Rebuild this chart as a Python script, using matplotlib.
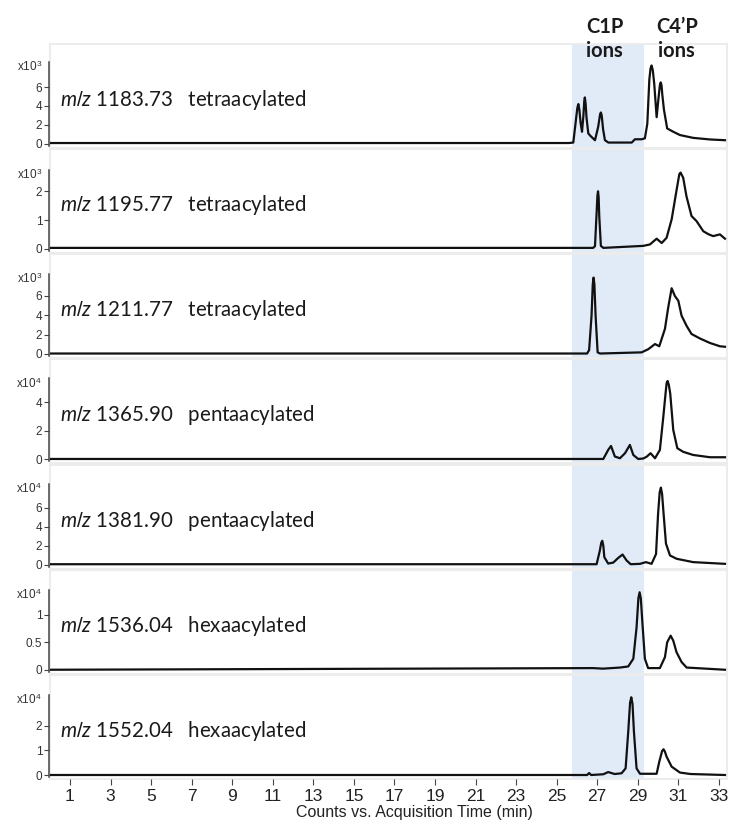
import matplotlib
matplotlib.use('Agg')
import matplotlib.pyplot as plt
from matplotlib.patches import Rectangle

plt.rcParams['mathtext.fontset'] = 'custom'
plt.rcParams['mathtext.it'] = 'Lato:italic'
plt.rcParams['mathtext.rm'] = 'Liberation Sans'

# --- data (time in min, counts in display units) ---
labels = [r'$\mathit{m/z}$ 1183.73   tetraacylated',
          r'$\mathit{m/z}$ 1195.77   tetraacylated',
          r'$\mathit{m/z}$ 1211.77   tetraacylated',
          r'$\mathit{m/z}$ 1365.90   pentaacylated',
          r'$\mathit{m/z}$ 1381.90   pentaacylated',
          r'$\mathit{m/z}$ 1536.04   hexaacylated',
          r'$\mathit{m/z}$ 1552.04   hexaacylated']
exponents = ['x10$^{3}$', 'x10$^{3}$', 'x10$^{3}$', 'x10$^{4}$', 'x10$^{4}$', 'x10$^{4}$', 'x10$^{4}$']

t1 = [0.05, 25.6, 25.82, 25.95, 26.02, 26.07, 26.12, 26.18, 26.25, 26.32, 26.36, 26.39, 26.43,
      26.47, 26.56, 26.67, 26.89, 27.05, 27.14, 27.18, 27.22, 27.29, 27.38, 27.55, 28.7, 28.86,
      29.19, 29.35, 29.47, 29.57, 29.63, 29.68, 29.74, 29.81, 29.93, 30.03, 30.09, 30.13, 30.17,
      30.21, 30.29, 30.45, 30.75, 31.08, 31.73, 32.56, 33.3]
v1 = [0.05, 0.05, 0.1, 2.5, 3.8, 4.2, 3.6, 2.2, 1.25, 3.0, 4.5, 4.9, 4.2,
      2.8, 1.07, 0.8, 0.35, 1.8, 3.1, 3.3, 3.0, 1.5, 0.35, 0.1, 0.1, 0.45,
      0.45, 0.55, 2.1, 6.8, 8.0, 8.3, 7.8, 6.4, 2.8, 5.0, 6.2, 6.5, 6.2,
      5.2, 3.6, 1.6, 1.25, 0.9, 0.6, 0.43, 0.35]

t2 = [0.05, 26.8, 26.89, 26.97, 27.01, 27.04, 27.07, 27.1, 27.18, 27.3, 29.27, 29.6, 29.93,
      30.18, 30.42, 30.67, 30.92, 31.05, 31.11, 31.24, 31.4, 31.65, 31.9, 32.23, 32.5, 32.72,
      33.05, 33.3]
v2 = [0.03, 0.03, 0.09, 1.25, 1.85, 2.0, 1.8, 1.14, 0.1, 0.03, 0.1, 0.15, 0.35,
      0.2, 0.38, 1.02, 2.07, 2.6, 2.65, 2.47, 1.83, 1.14, 0.96, 0.61, 0.5, 0.44,
      0.5, 0.35]

t3 = [0.05, 26.5, 26.6, 26.72, 26.78, 26.82, 26.86, 26.92, 27.02, 27.14, 29.19, 29.52, 29.85,
      30.06, 30.34, 30.5, 30.67, 30.83, 31.0, 31.16, 31.41, 31.65, 32.07, 32.56, 33.05, 33.3]
v3 = [0.05, 0.05, 0.4, 3.96, 7.2, 7.9, 7.2, 3.96, 0.17, 0.05, 0.17, 0.5, 1.03,
      0.8, 2.6, 4.8, 6.8, 6.0, 5.5, 3.96, 2.9, 2.07, 1.6, 1.14, 0.8, 0.75]

t4 = [0.05, 27.3, 27.54, 27.68, 27.87, 28.12, 28.37, 28.61, 28.78, 29.02, 29.27, 29.44, 29.63,
      29.85, 30.09, 30.26, 30.37, 30.42, 30.47, 30.53, 30.6, 30.75, 30.95, 31.24, 31.73, 32.56,
      33.3]
v4 = [0.02, 0.02, 0.65, 0.93, 0.19, 0.07, 0.42, 1.0, 0.3, 0.02, 0.05, 0.18, 0.42,
      0.07, 0.65, 2.98, 4.6, 5.3, 5.47, 5.2, 4.6, 2.05, 0.77, 0.52, 0.3, 0.14,
      0.14]

t5 = [0.05, 26.97, 27.13, 27.2, 27.25, 27.3, 27.35, 27.54, 27.79, 28.04, 28.25, 28.45, 28.65,
      29.11, 29.4, 29.68, 29.9, 30.0, 30.08, 30.14, 30.2, 30.26, 30.39, 30.59, 30.92, 31.73, 33.3]
v5 = [0.03, 0.03, 1.47, 2.3, 2.5, 2.0, 0.77, 0.1, 0.2, 0.7, 1.05, 0.42, 0.03,
      0.07, 0.25, 0.07, 1.1, 5.3, 7.6, 8.1, 7.4, 5.7, 2.2, 0.95, 0.6, 0.25, 0.07]

t6 = [0.05, 26.8, 27.28, 28.12, 28.53, 28.78, 28.94, 29.03, 29.09, 29.15, 29.22, 29.35, 29.51,
      30.09, 30.34, 30.45, 30.62, 30.75, 30.91, 31.16, 31.41, 33.3]
v6 = [0.0, 0.03, 0.02, 0.04, 0.06, 0.2, 0.77, 1.3, 1.41, 1.3, 0.9, 0.2, 0.03,
      0.03, 0.23, 0.5, 0.62, 0.53, 0.32, 0.14, 0.04, 0.0]

t7 = [0.05, 26.5, 26.6, 26.7, 27.3, 27.54, 27.86, 28.2, 28.4, 28.53, 28.62, 28.68, 28.74,
      28.81, 28.94, 29.11, 29.93, 30.06, 30.2, 30.27, 30.34, 30.42, 30.67, 31.08, 31.6, 33.3]
v7 = [0.0, 0.0, 0.08, 0.0, 0.03, 0.12, 0.04, 0.07, 0.27, 1.77, 2.95, 3.17, 2.9,
      1.77, 0.27, 0.05, 0.05, 0.54, 0.98, 1.05, 0.95, 0.75, 0.34, 0.1, 0.04, 0.0]

times = [t1, t2, t3, t4, t5, t6, t7]
values = [v1, v2, v3, v4, v5, v6, v7]

yticks = [[0, 2, 4, 6], [0, 1, 2], [0, 2, 4, 6], [0, 2, 4], [0, 2, 4, 6], [0, 0.5, 1], [0, 1, 2]]
yticklabels = [['0', '2', '4', '6'], ['0', '1', '2'], ['0', '2', '4', '6'], ['0', '2', '4'],
               ['0', '2', '4', '6'], ['0', '0.5', '1'], ['0', '1', '2']]
ytop = [10.64, 3.48, 10.34, 6.99, 10.53, 1.82, 4.08]      # value at panel top
yaxis_top = [8.7, 2.75, 8.3, 5.66, 8.5, 1.45, 3.27]       # end of the drawn y axis
xticks = list(range(1, 34, 2))
shade = (25.74, 29.32)

# --- layout (pixels) ---
W, H = 733, 824
fig = plt.figure(figsize=(W / 100, H / 100), dpi=100)
left, right = 50, 727
xlim = (0.014, 33.40)

for i in range(7):
    base = 143.5 + 105.25 * i
    ax = fig.add_axes([left / W, 1 - (base + 4) / H, (right - left) / W, 104 / H])
    scale = 100 / ytop[i]
    ax.set_xlim(*xlim)
    ax.set_ylim(-4 / scale, ytop[i])
    ax.axvspan(shade[0], shade[1], color='#e1ebf7', lw=0, zorder=0)
    ax.plot(times[i], values[i], color='#111111', lw=1.6, zorder=3, solid_joinstyle='round')

    for s in ['top', 'right', 'bottom']:
        ax.spines[s].set_visible(False)
    ax.add_patch(Rectangle((0, 0), 1, 1, transform=ax.transAxes, fill=False,
                           edgecolor='#ececec', lw=1.5, clip_on=False, zorder=1))
    ax.spines['left'].set_color('#444444')
    ax.spines['left'].set_linewidth(1.1)
    ax.spines['left'].set_position(('outward', 1))
    ax.spines['left'].set_bounds(-2 / scale, yaxis_top[i])
    ax.spines['left'].set_zorder(4)

    ax.set_yticks(yticks[i])
    ax.set_yticklabels(yticklabels[i], family='Liberation Sans', fontsize=8.5, color='#333333')
    ax.tick_params(axis='y', length=3.5, width=0.8, color='#444444', pad=1)

    ax.text(0.015, 0.46, labels[i], transform=ax.transAxes, family='Lato',
            fontsize=14.8, color='#1a1a1a', va='center', ha='left', zorder=5)
    ax.text(-0.012, yaxis_top[i] - 5 / scale, exponents[i],
            transform=ax.get_yaxis_transform(), ha='right', va='center',
            family='Liberation Sans', fontsize=8.5, color='#333333')

    if i < 6:
        ax.set_xticks([])
    else:
        ax.set_xticks(xticks)
        ax.set_xticklabels([str(x) for x in xticks], family='Liberation Sans',
                           fontsize=12.5, color='#222222')
        ax.tick_params(axis='x', length=4, width=0.8, color='#444444', pad=3)

fig.text(414 / W, 1 - 812 / H, 'Counts vs. Acquisition Time (min)', family='Liberation Sans',
         fontsize=11.5, color='#222222', ha='center', va='center')

for xc, txt in [(605, 'C1P'), (677, 'C4’P')]:
    fig.text(xc / W, 1 - 27 / H, txt, family='Lato', fontweight='bold', fontsize=14.5,
             color='#1a1a1a', ha='center', va='center')
    fig.text((xc - 1) / W, 1 - 51 / H, 'ions', family='Lato', fontweight='bold', fontsize=14.5,
             color='#1a1a1a', ha='center', va='center', zorder=10)

fig.savefig('out.png', dpi=100)
